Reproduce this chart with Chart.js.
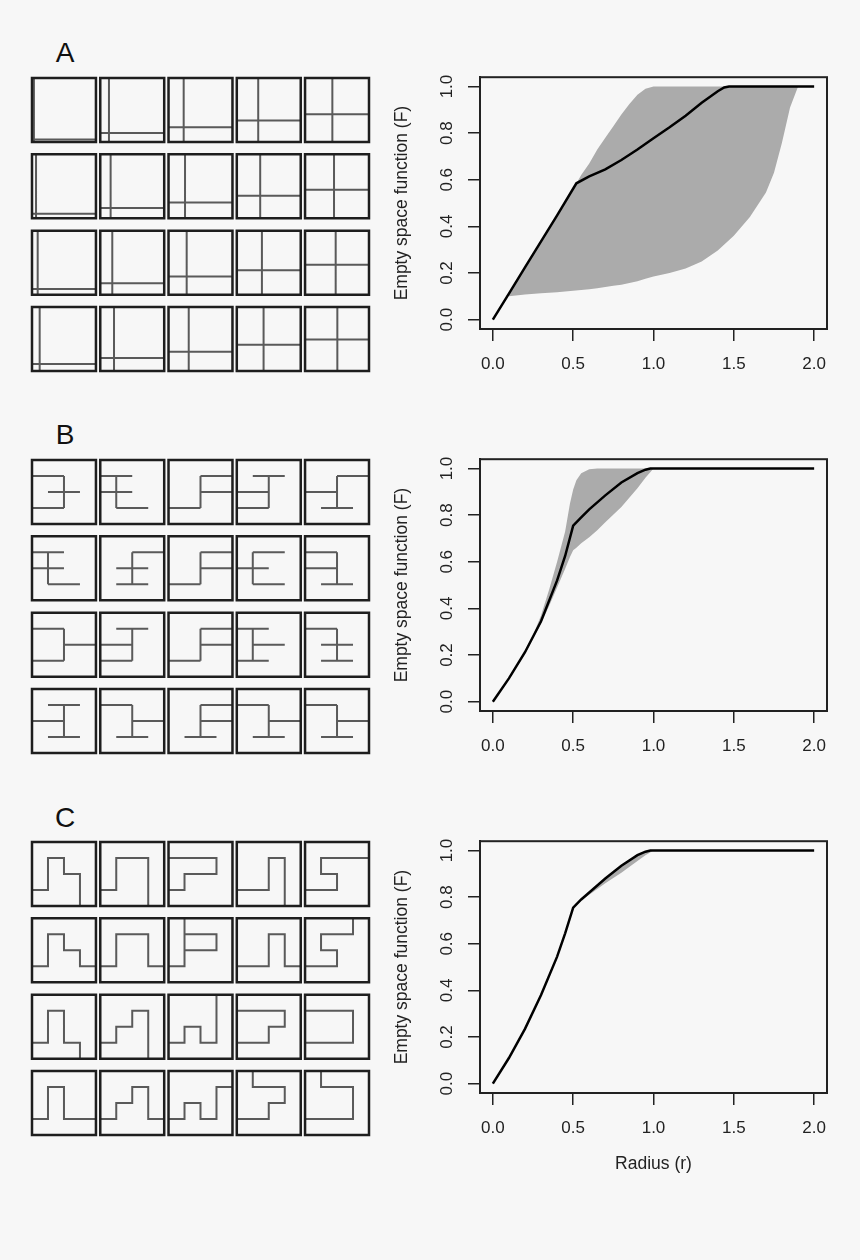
<!DOCTYPE html>
<html>
<head>
<meta charset="utf-8">
<script src="https://cdn.jsdelivr.net/npm/chart.js@4.4.1/dist/chart.umd.min.js"></script>
<style>
  html, body { margin: 0; padding: 0; background: #f7f7f7; }
  #page { position: relative; width: 860px; height: 1260px; background: #f7f7f7; font-family: 'Liberation Sans', Arial, sans-serif; }
  .box { position: absolute; }
  .letter { position: absolute; width: 40px; font-size: 28px; line-height: 28px; text-align: center; color: #111; }
</style>
</head>
<body>
<div id="page">
  <div class="letter" style="left:45px;top:39px">A</div>
  <div class="letter" style="left:45px;top:421px">B</div>
  <div class="letter" style="left:45px;top:804px">C</div>

  <div class="box" style="left:29px;top:75px;width:343px;height:299px"><canvas id="grid-a"></canvas></div>
  <div class="box" style="left:29px;top:457px;width:343px;height:299px"><canvas id="grid-b"></canvas></div>
  <div class="box" style="left:29px;top:839px;width:343px;height:299px"><canvas id="grid-c"></canvas></div>

  <div class="box" style="left:370px;top:58px;width:470px;height:323px"><canvas id="curve-a"></canvas></div>
  <div class="box" style="left:370px;top:440px;width:470px;height:323px"><canvas id="curve-b"></canvas></div>
  <div class="box" style="left:370px;top:822px;width:470px;height:361px"><canvas id="curve-c"></canvas></div>
</div>

<script>
'use strict';

// ---- axes ----
var radiusTicks = [0, 0.5, 1, 1.5, 2];
var fTicks = [0, 0.2, 0.4, 0.6, 0.8, 1];

// ---- panel A: observed F and simulation envelope ----
var radiusA = [0, 0.1, 0.2, 0.3, 0.4, 0.52, 0.6, 0.7, 0.8, 0.9, 1.0, 1.1, 1.2, 1.3, 1.4, 1.44, 1.47, 2.0];
var observedA = [0, 0.112, 0.224, 0.336, 0.447, 0.585, 0.615, 0.645, 0.685, 0.73, 0.778, 0.825, 0.875, 0.93, 0.98, 0.996, 1, 1];
var envRadiusA = [0.1, 0.2, 0.3, 0.4, 0.5, 0.55, 0.6, 0.65, 0.7, 0.75, 0.8, 0.85, 0.9, 0.95, 1.0, 1.1, 1.2, 1.3, 1.4, 1.5, 1.6, 1.7, 1.75, 1.8, 1.85, 1.9];
var envHighA = [0.11, 0.224, 0.336, 0.447, 0.56, 0.62, 0.67, 0.73, 0.78, 0.83, 0.88, 0.925, 0.965, 0.99, 1, 1, 1, 1, 1, 1, 1, 1, 1, 1, 1, 1];
var envLowA = [0.1, 0.108, 0.113, 0.118, 0.124, 0.127, 0.13, 0.135, 0.14, 0.145, 0.15, 0.157, 0.165, 0.175, 0.185, 0.2, 0.22, 0.25, 0.297, 0.36, 0.44, 0.545, 0.63, 0.76, 0.91, 1.0];

// ---- panel B ----
var radiusB = [0, 0.1, 0.2, 0.3, 0.4, 0.45, 0.5, 0.55, 0.6, 0.7, 0.8, 0.9, 0.95, 0.98, 2.0];
var observedB = [0, 0.1, 0.212, 0.345, 0.52, 0.625, 0.755, 0.79, 0.825, 0.885, 0.94, 0.98, 0.995, 1, 1];
var envRadiusB = [0.15, 0.2, 0.25, 0.3, 0.35, 0.4, 0.45, 0.48, 0.5, 0.52, 0.55, 0.6, 0.65, 0.7, 0.8, 0.9, 0.95, 1.0];
var envHighB = [0.15, 0.22, 0.285, 0.37, 0.48, 0.6, 0.73, 0.85, 0.91, 0.95, 0.98, 0.997, 1, 1, 1, 1, 1, 1];
var envLowB = [0.15, 0.205, 0.27, 0.335, 0.41, 0.49, 0.57, 0.62, 0.65, 0.66, 0.68, 0.705, 0.735, 0.77, 0.835, 0.915, 0.96, 1.0];

// ---- panel C ----
var radiusC = [0, 0.1, 0.2, 0.3, 0.4, 0.45, 0.5, 0.55, 0.6, 0.7, 0.8, 0.9, 0.95, 0.98, 2.0];
var observedC = [0, 0.11, 0.235, 0.38, 0.545, 0.645, 0.755, 0.79, 0.82, 0.88, 0.935, 0.98, 0.995, 1, 1];
var envRadiusC = [0.5, 0.55, 0.6, 0.7, 0.8, 0.9, 0.95, 1.0];
var envHighC = [0.755, 0.79, 0.82, 0.88, 0.935, 0.98, 0.995, 1.0];
var envLowC = [0.755, 0.785, 0.81, 0.86, 0.905, 0.955, 0.98, 1.0];

// ---- small patterns (row by row, 5 per row) ----
// A: one vertical split (fraction from left) and one horizontal split (fraction from bottom)
var splitXA = [0.03, 0.136, 0.237, 0.335, 0.427,
               0.063, 0.162, 0.258, 0.366, 0.453,
               0.089, 0.188, 0.284, 0.393, 0.479,
               0.12, 0.215, 0.316, 0.419, 0.505];
var splitYA = [0.04, 0.142, 0.232, 0.337, 0.432,
               0.07, 0.163, 0.247, 0.353, 0.447,
               0.09, 0.178, 0.283, 0.382, 0.466,
               0.11, 0.204, 0.30, 0.41, 0.492];

// B: segments [x1, y1, x2, y2] on a 4x4 lattice, y counted from the top
var segmentsB = [
  [[0,1,2,1],[2,1,2,3],[0,3,2,3],[1,2,3,2]],
  [[0,1,2,1],[0,2,2,2],[1,1,1,3],[1,3,3,3]],
  [[0,3,2,3],[2,1,2,3],[2,1,4,1],[2,2,4,2]],
  [[1,1,3,1],[2,1,2,3],[0,2,2,2],[0,3,2,3]],
  [[2,1,4,1],[2,1,2,3],[0,2,2,2],[1,3,3,3]],
  [[0,1,2,1],[0,2,2,2],[1,1,1,3],[1,3,3,3]],
  [[2,1,4,1],[2,1,2,3],[1,2,3,2],[1,3,3,3]],
  [[0,3,2,3],[2,1,2,3],[2,1,4,1],[2,2,4,2]],
  [[1,1,3,1],[1,1,1,3],[0,2,2,2],[1,3,3,3]],
  [[0,1,2,1],[2,1,2,3],[0,2,2,2],[1,3,3,3]],
  [[0,1,2,1],[2,1,2,3],[0,3,2,3],[2,2,4,2]],
  [[1,1,3,1],[2,1,2,3],[0,2,2,2],[0,3,2,3]],
  [[0,3,2,3],[2,1,2,3],[2,1,4,1],[2,2,4,2]],
  [[0,1,2,1],[1,1,1,3],[1,2,3,2],[0,3,2,3]],
  [[0,1,2,1],[2,1,2,3],[1,2,3,2],[1,3,3,3]],
  [[1,1,3,1],[2,1,2,3],[0,2,2,2],[1,3,3,3]],
  [[0,1,2,1],[2,1,2,3],[2,2,4,2],[1,3,3,3]],
  [[2,1,4,1],[2,1,2,3],[2,2,4,2],[1,3,3,3]],
  [[0,1,2,1],[2,1,2,3],[2,2,4,2],[1,3,3,3]],
  [[0,1,2,1],[2,1,2,3],[2,2,4,2],[1,3,3,3]]
];

// C: polylines on the same lattice
var pathsC = [
  [[[0,3],[1,3],[1,1],[2,1],[2,2],[3,2],[3,4]]],
  [[[0,3],[1,3],[1,1],[3,1],[3,4]]],
  [[[0,1],[3,1],[3,2],[1,2],[1,3],[0,3]]],
  [[[0,3],[2,3],[2,1],[3,1],[3,4]]],
  [[[4,1],[1,1],[1,2],[2,2],[2,3],[0,3]]],
  [[[0,3],[1,3],[1,1],[2,1],[2,2],[3,2],[3,3],[4,3]]],
  [[[0,3],[1,3],[1,1],[3,1],[3,3],[4,3]]],
  [[[1,0],[1,3],[0,3]], [[1,1],[3,1],[3,2],[1,2]]],
  [[[0,3],[2,3],[2,1],[3,1],[3,3],[4,3]]],
  [[[3,0],[3,1],[1,1],[1,2],[2,2],[2,3],[0,3]]],
  [[[0,3],[1,3],[1,1],[2,1],[2,3],[3,3],[3,4]]],
  [[[0,3],[1,3],[1,2],[2,2],[2,1],[3,1],[3,4]]],
  [[[0,3],[1,3],[1,2],[2,2],[2,3],[3,3],[3,0]]],
  [[[0,1],[3,1],[3,2],[2,2],[2,3],[0,3]]],
  [[[0,1],[3,1],[3,3],[0,3]]],
  [[[0,3],[1,3],[1,1],[2,1],[2,3],[4,3]]],
  [[[0,3],[1,3],[1,2],[2,2],[2,1],[3,1],[3,3],[4,3]]],
  [[[0,3],[1,3],[1,2],[2,2],[2,3],[3,3],[3,1],[4,1]]],
  [[[1,0],[1,1],[3,1],[3,2],[2,2],[2,3],[0,3]]],
  [[[1,0],[1,1],[3,1],[3,3],[0,3]]]
];

// ---- layout constants for the pattern grids ----
var SIDE = 4;
var PITCH_X = 4.27;
var PITCH_Y = 4.77;
var COLS = 5;
var ROWS = 4;

Chart.defaults.font.family = "'Liberation Sans', Arial, sans-serif";
Chart.defaults.color = '#222';

function pairs(xs, ys) {
  return xs.map(function(x, i) { return {x: x, y: ys[i]}; });
}

function addPath(target, path, ox, oy) {
  path.forEach(function(p) { target.push({x: ox + p[0], y: oy + p[1]}); });
  var last = path[path.length - 1];
  target.push({x: ox + last[0], y: null});
}

function patternPoints(shapes) {
  var frame = [];
  var inner = [];
  shapes.forEach(function(paths, i) {
    var ox = (i % COLS) * PITCH_X;
    var oy = Math.floor(i / COLS) * PITCH_Y;
    addPath(frame, [[0, 0], [SIDE, 0], [SIDE, SIDE], [0, SIDE], [0, 0], [SIDE, 0]], ox, oy);
    paths.forEach(function(path) { addPath(inner, path, ox, oy); });
  });
  return {frame: frame, inner: inner};
}

function shapesA() {
  return splitXA.map(function(sx, i) {
    var vx = sx * SIDE;
    var hy = SIDE - splitYA[i] * SIDE;
    return [[[vx, 0], [vx, SIDE]], [[0, hy], [SIDE, hy]]];
  });
}

function shapesB() {
  return segmentsB.map(function(segs) {
    return segs.map(function(s) { return [[s[0], s[1]], [s[2], s[3]]]; });
  });
}

function makeGrid(id, shapes) {
  var pts = patternPoints(shapes);
  return new Chart(document.getElementById(id), {
    type: 'line',
    data: {
      datasets: [
        {data: pts.frame, borderColor: '#1e1e1e', borderWidth: 2.5, pointRadius: 0, borderJoinStyle: 'miter', spanGaps: false, clip: false},
        {data: pts.inner, borderColor: '#5a5a5a', borderWidth: 2, pointRadius: 0, borderJoinStyle: 'miter', spanGaps: false, clip: false}
      ]
    },
    options: {
      responsive: true,
      maintainAspectRatio: false,
      animation: false,
      events: [],
      layout: {padding: 3},
      plugins: {legend: {display: false}, tooltip: {enabled: false}},
      scales: {
        x: {type: 'linear', display: false, min: 0, max: (COLS - 1) * PITCH_X + SIDE},
        y: {type: 'linear', display: false, reverse: true, min: 0, max: (ROWS - 1) * PITCH_Y + SIDE}
      }
    }
  });
}

// NOTE: R style box round the plot region
var frameBox = {
  id: 'frameBox',
  afterDraw: function(chart) {
    var a = chart.chartArea;
    var ctx = chart.ctx;
    ctx.save();
    ctx.strokeStyle = '#222';
    ctx.lineWidth = 2;
    ctx.strokeRect(a.left, a.top, a.right - a.left, a.bottom - a.top);
    ctx.restore();
  }
};

function makeCurve(id, obsR, obsF, envR, envHigh, envLow, showRadiusTitle) {
  var tickGrid = {display: true, drawOnChartArea: false, drawTicks: true, tickLength: 12, color: '#222', lineWidth: 1.5};
  return new Chart(document.getElementById(id), {
    type: 'line',
    data: {
      datasets: [
        {data: pairs(obsR, obsF), borderColor: '#000', borderWidth: 2.5, pointRadius: 0, tension: 0, fill: false},
        {data: pairs(envR, envHigh), borderWidth: 0, borderColor: 'rgba(0,0,0,0)', backgroundColor: '#ababab', pointRadius: 0, fill: '+1'},
        {data: pairs(envR, envLow), borderWidth: 0, borderColor: 'rgba(0,0,0,0)', pointRadius: 0, fill: false}
      ]
    },
    options: {
      responsive: true,
      maintainAspectRatio: false,
      animation: false,
      events: [],
      layout: {padding: {top: 12, right: 13, left: 0, bottom: 0}},
      plugins: {legend: {display: false}, tooltip: {enabled: false}},
      scales: {
        x: {
          type: 'linear', min: -0.08, max: 2.08,
          afterBuildTicks: function(axis) { axis.ticks = radiusTicks.map(function(v) { return {value: v}; }); },
          afterFit: function(axis) { axis.height = showRadiusTitle ? 90 : 52; },
          ticks: {
            autoSkip: false, maxRotation: 0, padding: 13, color: '#222', font: {size: 17},
            callback: function(v) { return Number(v).toFixed(1); }
          },
          grid: tickGrid,
          border: {display: true, color: '#222', width: 2},
          title: {display: showRadiusTitle, text: 'Radius (r)', color: '#222', font: {size: 17.5}, padding: {top: 0, bottom: 8}}
        },
        y: {
          type: 'linear', min: -0.04, max: 1.04,
          afterBuildTicks: function(axis) { axis.ticks = fTicks.map(function(v) { return {value: v}; }); },
          afterFit: function(axis) { axis.width = 110; },
          ticks: {
            autoSkip: false, minRotation: 90, maxRotation: 90, crossAlign: 'center', padding: 9, color: '#222', font: {size: 17},
            callback: function(v) { return Number(v).toFixed(1); }
          },
          grid: tickGrid,
          border: {display: true, color: '#222', width: 2},
          title: {display: true, text: 'Empty space function (F)', color: '#222', font: {size: 17.5}, padding: {top: 22, bottom: 0}}
        }
      }
    },
    plugins: [frameBox]
  });
}

makeGrid('grid-a', shapesA());
makeGrid('grid-b', shapesB());
makeGrid('grid-c', pathsC);

makeCurve('curve-a', radiusA, observedA, envRadiusA, envHighA, envLowA, false);
makeCurve('curve-b', radiusB, observedB, envRadiusB, envHighB, envLowB, false);
makeCurve('curve-c', radiusC, observedC, envRadiusC, envHighC, envLowC, true);
</script>
</body>
</html>
